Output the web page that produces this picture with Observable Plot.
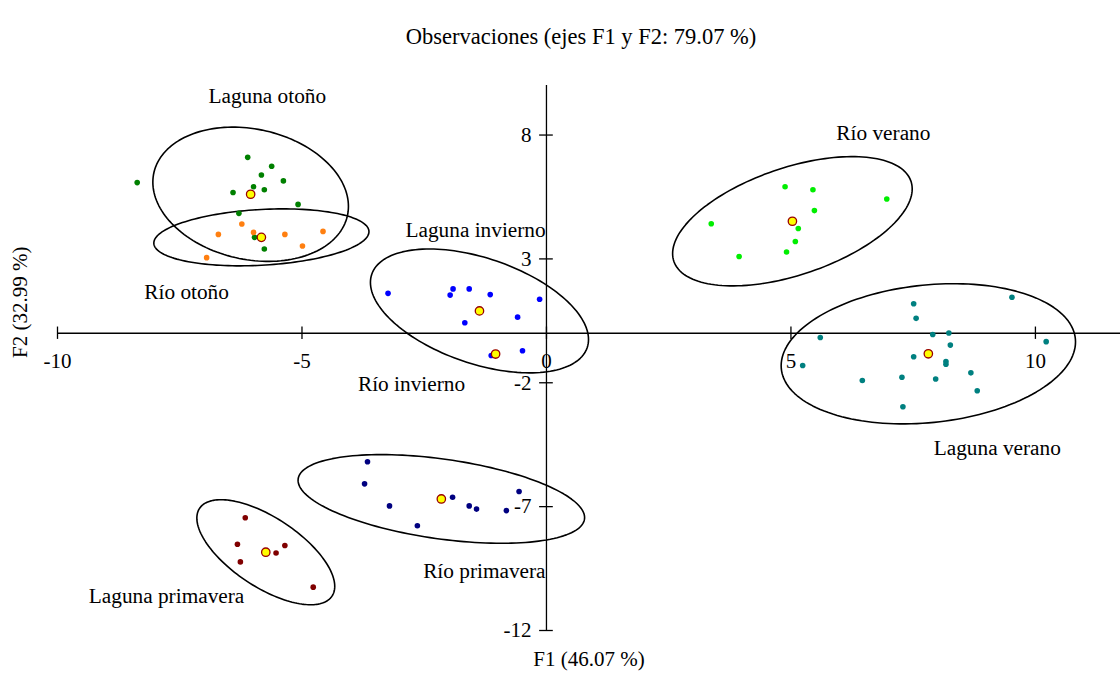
<!DOCTYPE html>
<html><head><meta charset="utf-8">
<script src="https://cdn.jsdelivr.net/npm/d3@7"></script>
<script src="https://cdn.jsdelivr.net/npm/@observablehq/plot@0.6"></script>
<style>body{margin:0;background:#fff}</style>
</head><body><div id="chart"></div>
<script>
// ---- data ----
const groups = ["Laguna otoño","Río otoño","Laguna invierno","Río invierno","Río verano","Laguna verano","Río primavera","Laguna primavera"];
const groupColors = ["#008000","#ff7f10","#0000ff","#0000ff","#00ee00","#008080","#000080","#800000"];

const lagunaOtonoF1 = [-8.37,-6.11,-5.62,-5.83,-5.38,-5.99,-5.77,-6.41,-5.08,-6.29,-5.97,-5.77];
const lagunaOtonoF2 = [6.08,7.10,6.74,6.39,6.15,5.91,5.79,5.68,5.20,4.84,3.87,3.40];
const rioOtonoF1 = [-6.23,-6.71,-5.99,-5.35,-4.57,-4.99,-6.95];
const rioOtonoF2 = [4.41,3.99,4.07,3.99,4.11,3.52,3.05];
const lagunaInviernoF1 = [-3.24,-1.91,-1.97,-1.58,-1.15,-0.14,-0.59,-1.67];
const lagunaInviernoF2 = [1.61,1.79,1.54,1.79,1.56,1.37,0.65,0.42];
const rioInviernoF1 = [-0.49,-1.13];
const rioInviernoF2 = [-0.71,-0.90];
const rioVeranoF1 = [4.88,5.45,6.96,5.48,3.37,5.15,5.09,4.91,3.94];
const rioVeranoF2 = [5.91,5.79,5.42,4.95,4.42,4.23,3.70,3.28,3.10];
const lagunaVeranoF1 = [7.51,9.52,7.56,7.90,8.23,5.60,10.22,8.26,7.51,8.17,8.17,5.24,8.68,7.27,7.96,6.46,8.81,7.29];
const lagunaVeranoF2 = [1.19,1.45,0.60,-0.05,0.01,-0.17,-0.34,-0.48,-0.95,-1.14,-1.25,-1.30,-1.60,-1.78,-1.85,-1.91,-2.32,-2.97];
const rioPrimaveraF1 = [-3.66,-3.72,-3.21,-2.64,-1.92,-1.58,-1.43,-0.82,-0.56];
const rioPrimaveraF2 = [-5.19,-6.08,-6.97,-7.77,-6.62,-6.97,-7.10,-7.16,-6.39];
const lagunaPrimaveraF1 = [-6.16,-6.32,-5.35,-5.53,-6.26,-4.77];
const lagunaPrimaveraF2 = [-7.45,-8.52,-8.57,-8.87,-9.23,-10.25];

// centroids (yellow markers)
const centroidF1 = [-6.05,-5.83,-1.37,-1.04,5.03,7.81,-2.15,-5.74];
const centroidF2 = [5.61,3.87,0.90,-0.84,4.52,-0.83,-6.69,-8.84];

// confidence ellipses: group, half-extent along F1, half-extent along F2, tilt (cos of phase)
const ellipseGroups = ["Laguna otoño","Río otoño","Laguna invierno","Río verano","Laguna verano","Río primavera","Laguna primavera"];
const ellipseHalfF1 = [2.00,2.20,2.23,2.45,3.01,2.93,1.41];
const ellipseHalfF2 = [2.71,1.15,2.50,2.61,2.83,1.79,2.12];
const ellipseTilt   = [-0.18,0.20,-0.46,0.50,0.17,-0.42,-0.65];

// label anchors
const labelText = ["Laguna otoño","Río otoño","Laguna invierno","Río invierno","Río verano","Laguna verano","Río primavera","Laguna primavera"];
const labelF1 = [-5.71,-7.36,-1.45,-2.76,6.89,9.22,-1.27,-7.77];
const labelF2 = [9.56,1.64,4.14,-2.04,8.07,-4.63,-9.60,-10.61];

const xTicks = [-10,-5,0,5,10];
const yTicks = [8,3,-2,-7,-12];

// ---- build tables ----
const series = [
  [lagunaOtonoF1,lagunaOtonoF2],[rioOtonoF1,rioOtonoF2],[lagunaInviernoF1,lagunaInviernoF2],
  [rioInviernoF1,rioInviernoF2],[rioVeranoF1,rioVeranoF2],[lagunaVeranoF1,lagunaVeranoF2],
  [rioPrimaveraF1,rioPrimaveraF2],[lagunaPrimaveraF1,lagunaPrimaveraF2]
];
const points = [];
series.forEach(([xs,ys],gi) => xs.forEach((x,i) => points.push({group: groups[gi], x, y: ys[i]})));
const centroids = groups.map((g,i) => ({group:g, x:centroidF1[i], y:centroidF2[i]}));
const ellipsePts = [];
ellipseGroups.forEach((g,i) => {
  const c = centroids.find(d => d.group === g);
  const cp = ellipseTilt[i], sp = Math.sqrt(1 - cp*cp);
  const N = 160;
  for (let k = 0; k <= N; k++) {
    const t = 2*Math.PI*k/N;
    ellipsePts.push({group:g,
      x: c.x + ellipseHalfF1[i]*Math.cos(t),
      y: c.y + ellipseHalfF2[i]*(Math.cos(t)*cp + Math.sin(t)*sp)});
  }
});
const labels = labelText.map((t,i) => ({text:t, x:labelF1[i], y:labelF2[i]}));

const FONT = "'Liberation Serif','Times New Roman',serif";
const chart = Plot.plot({
  width: 1120, height: 676,
  marginLeft: 57, marginRight: 0, marginTop: 85, marginBottom: 46,
  x: {domain: [-10, 11.74], axis: null},
  y: {domain: [-12, 10], axis: null},
  color: {domain: groups, range: groupColors},
  style: {fontFamily: FONT, background: "white", color: "black"},
  marks: [
    Plot.ruleY([0], {x1: -10, x2: 11.74, stroke: "black", strokeWidth: 1.3}),
    Plot.ruleX([0], {y1: -12, y2: 10, stroke: "black", strokeWidth: 1.3}),
    Plot.ruleX(xTicks, {x: d => d, y1: -0.25, y2: 0.25, stroke: "black", strokeWidth: 1.3}),
    Plot.ruleY(yTicks, {y: d => d, x1: -0.14, x2: 0.14, stroke: "black", strokeWidth: 1.3}),
    Plot.text(xTicks, {x: d => d, y: 0, text: d => String(d), dy: 28, fontSize: 21, fill: "black"}),
    Plot.text(yTicks, {x: 0, y: d => d, text: d => String(d), textAnchor: "end", dx: -15, fontSize: 21, fill: "black"}),
    Plot.line(ellipsePts, {x: "x", y: "y", z: "group", stroke: "black", strokeWidth: 1.6}),
    Plot.dot(points, {x: "x", y: "y", fill: "group", r: 2.8}),
    Plot.dot(centroids, {x: "x", y: "y", fill: "#ffff00", stroke: "#990000", strokeWidth: 1.3, r: 4.2}),
    Plot.text(labels, {x: "x", y: "y", text: "text", fontSize: 21.3, fill: "black"}),
    Plot.text(["Observaciones (ejes F1 y F2: 79.07 %)"], {frameAnchor: "top", dx: -8, dy: -57, fontSize: 22.5, fill: "black"}),
    Plot.text(["F1 (46.07 %)"], {frameAnchor: "bottom", dy: 35, fontSize: 21, fill: "black"}),
    Plot.text(["F2 (32.99 %)"], {frameAnchor: "left", dx: -37, rotate: -90, fontSize: 21, fill: "black"})
  ]
});
document.getElementById("chart").appendChild(chart);
</script>
</body></html>
